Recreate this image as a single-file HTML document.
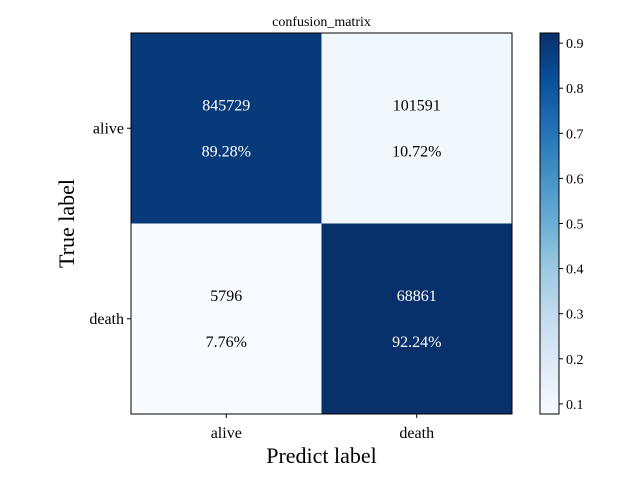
<!DOCTYPE html>
<html><head><meta charset="utf-8"><style>
body{margin:0;background:#fff}
svg text{font-family:"Liberation Serif",serif}
</style></head><body>
<svg id="c" width="640" height="480" xmlns="http://www.w3.org/2000/svg"></svg>
<script>
const classes = ["alive","death"];
const counts = [[845729,101591],[5796,68861]];
const rates = [[0.8928,0.1072],[0.0776,0.9224]];
const rateLabels = [["89.28%","10.72%"],["7.76%","92.24%"]];
const cbTicks = [0.1,0.2,0.3,0.4,0.5,0.6,0.7,0.8,0.9];

const NS="http://www.w3.org/2000/svg";
const svg=document.getElementById('c');
function mk(t,a,p){const e=document.createElementNS(NS,t);for(const k in a)e.setAttribute(k,a[k]);(p||svg).appendChild(e);return e;}
const L=131,T=33,W=381,H=381;
const n=classes.length, cw=W/n, ch=H/n;
const vmin=Math.min(...rates.flat()), vmax=Math.max(...rates.flat());
const stops=[[247,251,255],[222,235,247],[198,219,239],[158,202,225],[107,174,214],[66,146,198],[33,113,181],[8,81,156],[8,48,107]];
function blues(v){let t=(v-vmin)/(vmax-vmin);t=Math.max(0,Math.min(1,t))*(stops.length-1);const i=Math.min(Math.floor(t),stops.length-2),f=t-i;const c=stops[i].map((x,j)=>Math.round(x+(stops[i+1][j]-x)*f));return `rgb(${c})`;}
const xs=j=>L+j*cw, ys=i=>T+i*ch;
for(let i=0;i<n;i++)for(let j=0;j<n;j++){
  const r=mk('rect',{x:xs(j),y:ys(i),width:cw,height:ch,fill:blues(rates[i][j])});
  
  
  const col=rates[i][j]>(vmin+vmax)/2?'#fff':'#000';
  const t1=mk('text',{x:xs(j)+cw/2,y:ys(i)+ch/2-18,'text-anchor':'middle','font-size':16,fill:col});
  t1.textContent=counts[i][j];
  
  
  const t2=mk('text',{x:xs(j)+cw/2,y:ys(i)+ch/2+28,'text-anchor':'middle','font-size':16,fill:col});
  t2.textContent=rateLabels[i][j];
  
  
}
mk('rect',{x:L,y:T,width:W,height:H,fill:'none',stroke:'#000','stroke-width':1});
for(let k=0;k<n;k++){
  mk('line',{x1:xs(k)+cw/2,x2:xs(k)+cw/2,y1:T+H,y2:T+H+4,stroke:'#000'});
  const tx=mk('text',{x:xs(k)+cw/2,y:T+H+24,'text-anchor':'middle','font-size':16});
  tx.textContent=classes[k];
  
  
  mk('line',{x1:L-4,x2:L,y1:ys(k)+ch/2,y2:ys(k)+ch/2,stroke:'#000'});
  const ty=mk('text',{x:L-7,y:ys(k)+ch/2+5,'text-anchor':'end','font-size':16});
  ty.textContent=classes[k];
  
  
}
const title=mk('text',{x:L+W/2,y:26,'text-anchor':'middle','font-size':14});title.textContent='confusion_matrix';

const xl=mk('text',{x:L+W/2,y:463,'text-anchor':'middle','font-size':22});xl.textContent='Predict label';

const yl=mk('text',{x:0,y:0,'text-anchor':'middle','font-size':22,transform:`translate(74,${T+H/2}) rotate(-90)`});yl.textContent='True label';

const CX=540,CW=19;
const defs=mk('defs',{});
const g=mk('linearGradient',{id:'cb',x1:0,y1:1,x2:0,y2:0},defs);
stops.forEach((s,i)=>mk('stop',{offset:i/(stops.length-1),'stop-color':`rgb(${s})`},g));
const cb=mk('rect',{x:CX,y:T,width:CW,height:H,fill:'url(#cb)',stroke:'#000'});

const cy=v=>T+H-(v-vmin)/(vmax-vmin)*H;
cbTicks.forEach(v=>{
  mk('line',{x1:CX+CW,x2:CX+CW+4,y1:cy(v),y2:cy(v),stroke:'#000'});
  const t=mk('text',{x:CX+CW+7,y:cy(v)+5,'font-size':14});t.textContent=v.toFixed(1);
  
});
</script>
</body></html>
